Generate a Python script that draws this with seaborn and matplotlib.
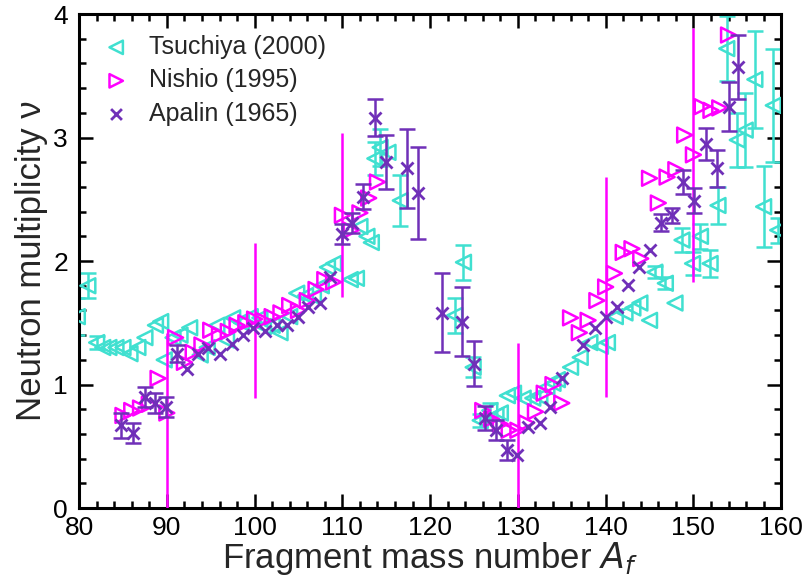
import numpy as np
import pandas as pd
import matplotlib
matplotlib.use("Agg")
import matplotlib.pyplot as plt
import seaborn as sns

# ---------------- data ----------------
tsu_A = [79.8, 81.0, 82.0, 82.7, 83.4, 84.2, 85.0, 85.8, 86.7, 87.5, 88.7, 89.3, 89.7,
         90.7, 91.5, 92.6, 93.8, 94.6, 95.7, 96.8, 97.5, 98.5, 99.5, 100.6, 101.0, 102.0,
         102.9, 104.0, 104.8, 105.8, 106.7, 107.6, 108.3, 109.0, 110.9, 111.6, 112.0,
         112.8, 113.3, 113.7, 114.3, 115.2, 116.6,
         122.8, 123.8, 124.9, 125.7, 126.8, 127.5, 128.0, 128.8, 129.5, 130.6, 131.7,
         132.5, 133.3, 134.0, 134.5, 136.0, 137.1, 138.2, 139.4, 140.2, 141.1, 142.2,
         143.1, 143.9, 145.0, 145.6, 146.8, 147.9, 148.7, 149.9, 150.8, 151.9, 152.8,
         153.8, 155.0, 155.9, 157.0, 158.0, 159.1, 159.6]
tsu_nu = [1.55, 1.80, 1.34, 1.30, 1.30, 1.30, 1.30, 1.25, 1.30, 1.38, 1.48, 1.51, 1.20,
          1.38, 1.40, 1.46, 1.24, 1.30, 1.48, 1.36, 1.54, 1.50, 1.55, 1.54, 1.47, 1.48,
          1.42, 1.55, 1.74, 1.72, 1.71, 1.80, 1.95, 1.98, 1.85, 1.86, 2.28,
          2.20, 2.15, 2.83, 2.92, 2.88, 2.49,
          1.56, 1.99, 1.14, 0.71, 0.79, 0.75, 0.77, 0.91, 0.93, 0.89, 0.89,
          0.90, 0.98, 1.01, 1.04, 1.14, 1.22, 1.34, 1.31, 1.34, 1.55, 1.58,
          1.62, 1.66, 1.52, 1.91, 1.82, 1.66, 2.17, 1.98, 2.20, 1.98, 2.45,
          3.72, 2.98, 3.06, 3.47, 2.44, 3.26, 2.25]
tsu_err = [0.15, 0.10, 0.05, 0, 0, 0, 0, 0, 0, 0, 0, 0, 0,
           0, 0, 0, 0, 0, 0, 0, 0, 0, 0, 0, 0, 0,
           0, 0, 0, 0, 0, 0, 0, 0, 0, 0, 0,
           0, 0, 0.13, 0.15, 0.0, 0.21,
           0.14, 0.14, 0.08, 0.05, 0.06, 0, 0, 0, 0, 0, 0,
           0, 0, 0, 0, 0, 0, 0, 0, 0, 0, 0,
           0, 0, 0, 0.05, 0.05, 0, 0.10, 0.09, 0.10, 0.11, 0.15,
           0.26, 0.22, 0.30, 0.39, 0.33, 0.46, 0.10]

nis_A = [85, 86, 87, 88, 89, 90, 91, 92, 93, 94, 95, 96, 97, 98, 99, 100, 101, 102, 103,
         104, 105, 106, 107, 108, 109, 110, 111, 112, 113, 114,
         126, 127, 128, 129, 130, 131, 132, 133, 134, 135, 136, 137, 138, 139, 140, 141,
         142, 143, 144, 145, 146, 147, 148, 149, 150, 151, 152, 153, 154]
nis_nu = [0.75, 0.79, 0.81, 0.84, 1.05, 0.77, 1.38, 1.18, 1.26, 1.32, 1.44, 1.40, 1.43,
          1.48, 1.50, 1.53, 1.52, 1.55, 1.58, 1.64, 1.60, 1.68, 1.77, 1.85, 1.83, 2.37,
          2.25, 2.39, 2.51, 2.64,
          0.79, 0.72, 0.68, 0.63, 0.63, 0.69, 0.78, 0.93, 1.00, 0.85, 1.54, 1.42, 1.52,
          1.68, 1.79, 1.90, 2.07, 2.10, 2.02, 2.67, 2.47, 2.68, 2.74, 3.02, 2.86, 3.25,
          3.22, 3.24, 3.83]
nis_bar_A = [90, 100, 110, 130, 140, 150]
nis_bar_nu = [0.77, 1.53, 2.37, 0.63, 1.79, 2.86]
nis_bar_lo = [0.77, 0.64, 0.66, 0.63, 0.89, 1.03]
nis_bar_hi = [0.65, 0.62, 0.67, 0.71, 0.89, 1.03]

apa_A = [84.8, 86.1, 87.5, 88.7, 89.9, 91.1, 92.3, 93.6, 94.7, 96.1, 97.4, 98.7, 99.8,
         101.2, 102.5, 103.7, 104.9, 106.1, 107.5, 108.6, 110.0, 111.1, 112.4, 113.7,
         115.0, 117.4, 118.6, 121.3, 123.6, 125.0, 126.3, 127.5, 128.8, 129.9, 131.2,
         132.5, 133.7, 135.0, 137.4, 138.8, 140.0, 141.3, 142.6, 143.8, 145.1, 146.3,
         147.6, 148.8, 150.1, 151.4, 152.7, 154.0, 155.1]
apa_nu = [0.67, 0.61, 0.90, 0.85, 0.82, 1.25, 1.13, 1.25, 1.30, 1.25, 1.33, 1.40, 1.46,
          1.43, 1.48, 1.48, 1.55, 1.63, 1.66, 1.87, 2.22, 2.31, 2.52, 3.16,
          2.80, 2.75, 2.55, 1.58, 1.51, 1.17, 0.73, 0.63, 0.47, 0.43, 0.66,
          0.69, 0.82, 1.05, 1.32, 1.46, 1.55, 1.63, 1.81, 1.95, 2.09, 2.31,
          2.37, 2.64, 2.49, 2.95, 2.75, 3.25, 3.57]
apa_err = [0.10, 0.08, 0.08, 0.08, 0.08, 0.07, 0, 0, 0, 0, 0, 0, 0,
           0, 0, 0, 0, 0, 0, 0, 0.08, 0.08, 0.10, 0.15,
           0.22, 0.32, 0.37, 0.32, 0.28, 0.18, 0.10, 0.08, 0.08, 0, 0,
           0, 0, 0, 0, 0, 0, 0, 0, 0, 0, 0.07,
           0.06, 0.10, 0.10, 0.13, 0.15, 0.20, 0.26]

labels = ["Tsuchiya (2000)", "Nishio (1995)", "Apalin (1965)"]
c_tsu, c_nis, c_apa = "#40E0D0", "#FF00FF", "#7030B8"

# ---------------- plot ----------------
sns.set_style("ticks")
plt.rcParams["font.family"] = ["Liberation Sans", "DejaVu Sans"]

fig = plt.figure(figsize=(8.07, 5.84), dpi=100)
ax = fig.add_axes([0.098, 0.130, 0.870, 0.846])

tsu = pd.DataFrame({"A": tsu_A, "nu": tsu_nu, "err": tsu_err})
nis = pd.DataFrame({"A": nis_A, "nu": nis_nu})
apa = pd.DataFrame({"A": apa_A, "nu": apa_nu, "err": apa_err})

te = tsu[tsu.err > 0]
ax.errorbar(te.A, te.nu, yerr=te.err, fmt="none", ecolor=c_tsu, elinewidth=1.8,
            capsize=6, capthick=1.8, zorder=2)
sns.scatterplot(data=tsu, x="A", y="nu", marker="<", s=115, facecolors="none",
                edgecolor=c_tsu, linewidth=1.8, ax=ax, label=labels[0], zorder=3)

ax.errorbar(nis_bar_A, nis_bar_nu, yerr=[nis_bar_lo, nis_bar_hi], fmt="none",
            ecolor=c_nis, elinewidth=1.8, capsize=0, zorder=4)
sns.scatterplot(data=nis, x="A", y="nu", marker=">", s=115, facecolors="none",
                edgecolor=c_nis, linewidth=1.8, ax=ax, label=labels[1], zorder=5)

ae = apa[apa.err > 0]
ax.errorbar(ae.A, ae.nu, yerr=ae.err, fmt="none", ecolor=c_apa, elinewidth=1.8,
            capsize=6, capthick=1.8, zorder=6)
sns.scatterplot(data=apa, x="A", y="nu", marker="x", s=75, color=c_apa,
                linewidth=2.0, ax=ax, label=labels[2], zorder=7)

ax.set_xlim(80, 160)
ax.set_ylim(0, 4)
ax.set_xticks(np.arange(80, 161, 10))
ax.set_xticks(np.arange(80, 161, 2), minor=True)
ax.set_yticks(np.arange(0, 4.1, 1))
ax.set_yticklabels(["0", "1", "2", "3", "4"])
ax.set_yticks(np.arange(0, 4.01, 0.2), minor=True)
ax.tick_params(which="both", direction="in", top=True, right=True, width=1.8,
               labelsize=19, colors="black")
ax.tick_params(which="major", length=10)
ax.tick_params(axis="x", which="major", pad=6)
ax.tick_params(axis="y", which="major", pad=8)
ax.tick_params(which="minor", length=5)
for sp in ax.spines.values():
    sp.set_linewidth(2.2)
    sp.set_color("black")

ax.set_xlabel("Fragment mass number $\\mathit{A_f}$", fontsize=25, labelpad=0)
ax.set_ylabel("Neutron multiplicity ν", fontsize=25, labelpad=4)

leg = ax.legend(loc="upper left", frameon=False, fontsize=18, handletextpad=0.3,
                handlelength=2.0, borderaxespad=0.0, borderpad=0.4,
                labelspacing=0.38, markerscale=0.9,
                bbox_to_anchor=(0.003, 0.978))

fig.savefig("out.png", dpi=100)
